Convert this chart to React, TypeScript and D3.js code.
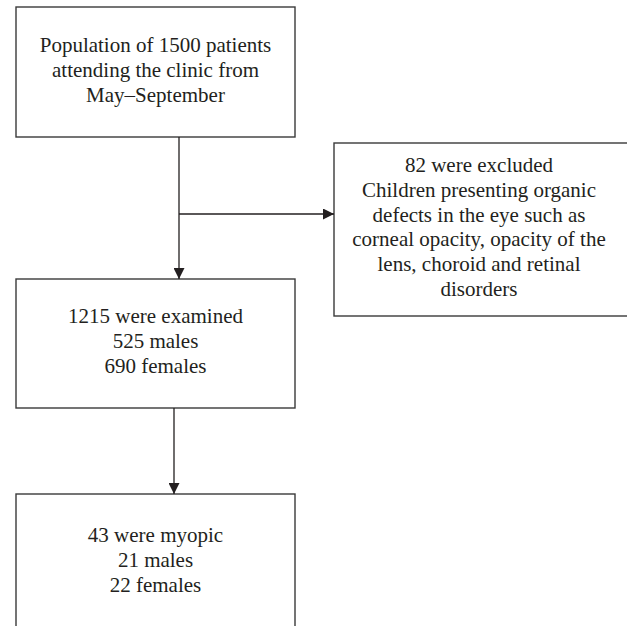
import * as d3 from "d3";
import { useEffect, useRef } from "react";

// box texts, top to bottom
const populationLines = ["Population of 1500 patients", "attending the clinic from", "May\u2013September"];
const excludedLines = [
  "82 were excluded",
  "Children presenting organic",
  "defects in the eye such as",
  "corneal opacity, opacity of the",
  "lens, choroid and retinal",
  "disorders",
];
const examinedLines = ["1215 were examined", "525 males", "690 females"];
const myopicLines = ["43 were myopic", "21 males", "22 females"];

export default function App() {
  const svgRef = useRef<SVGSVGElement>(null);

  useEffect(() => {
    const svg = d3.select(svgRef.current);
    svg.selectAll("*").remove();

    const width = 627;
    const height = 626;
    svg.attr("width", width).attr("height", height);

    const ink = "#231f20";
    const lineH = 24.8;

    // layout of boxes (pixels)
    const boxes = [
      { lines: populationLines, x0: 16, x1: 295, y0: 7, y1: 137, first: 52 },
      { lines: excludedLines, x0: 334, x1: 640, y0: 143, y1: 316, first: 172, cx: 479 },
      { lines: examinedLines, x0: 16, x1: 295, y0: 279, y1: 408, first: 323 },
      { lines: myopicLines, x0: 16, x1: 295, y0: 494, y1: 660, first: 542 },
    ];

    svg
      .append("defs")
      .append("marker")
      .attr("id", "head")
      .attr("viewBox", "0 0 10 10")
      .attr("refX", 10)
      .attr("refY", 5)
      .attr("markerUnits", "userSpaceOnUse")
      .attr("markerWidth", 11)
      .attr("markerHeight", 11)
      .attr("orient", "auto")
      .append("path")
      .attr("d", "M0,0L10,5L0,10Z")
      .attr("fill", ink);

    const g = svg.append("g");

    g.selectAll("rect")
      .data(boxes)
      .enter()
      .append("rect")
      .attr("x", d => d.x0)
      .attr("y", d => d.y0)
      .attr("width", d => d.x1 - d.x0)
      .attr("height", d => d.y1 - d.y0)
      .attr("fill", "white")
      .attr("stroke", "#3a3a3a")
      .attr("stroke-width", 1.4);

    boxes.forEach(b => {
      const cx = b.cx ?? (b.x0 + b.x1) / 2;
      g.append("text")
        .attr("text-anchor", "middle")
        .style("font-family", '"Liberation Serif", "DejaVu Serif", serif')
        .style("font-size", "21px")
        .attr("fill", ink)
        .selectAll("tspan")
        .data(b.lines)
        .enter()
        .append("tspan")
        .attr("x", cx)
        .attr("y", (_, i) => b.first + i * lineH)
        .text(d => d);
    });

    // connectors
    const links = [
      [[179, 137], [179, 279]],
      [[179, 214], [334, 214]],
      [[174, 408], [174, 494]],
    ];
    const line = d3.line();
    g.selectAll("path.link")
      .data(links)
      .enter()
      .append("path")
      .attr("class", "link")
      .attr("d", d => line(d as [number, number][]))
      .attr("fill", "none")
      .attr("stroke", ink)
      .attr("stroke-width", 1.3)
      .attr("marker-end", "url(#head)");
  }, []);

  return (
    <div style={{ position: "fixed", left: 0, top: 0, width: 627, height: 626, background: "white", overflow: "hidden" }}>
      <svg ref={svgRef} style={{ display: "block" }} />
    </div>
  );
}
